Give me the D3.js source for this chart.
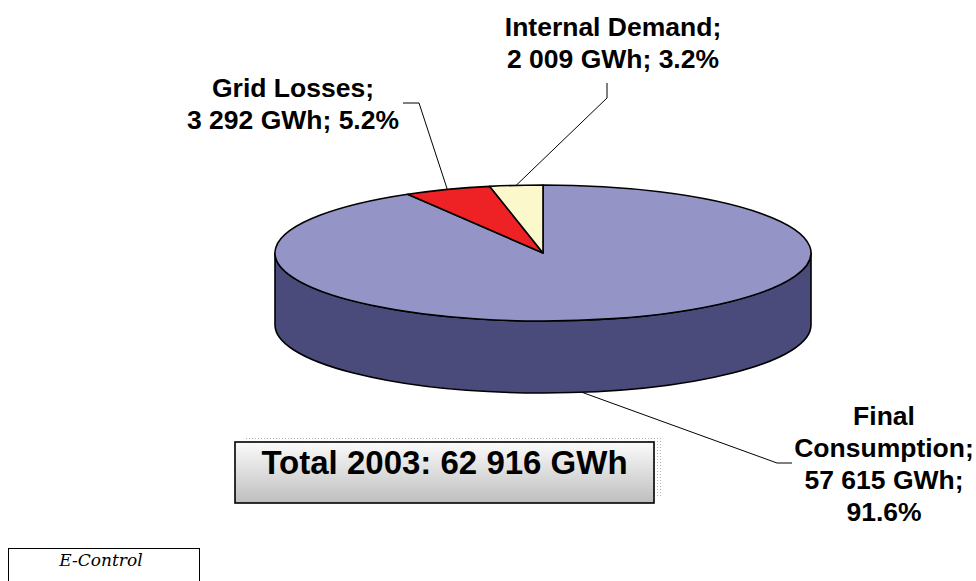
<!DOCTYPE html>
<html>
<head>
<meta charset="utf-8">
<script src="https://cdn.jsdelivr.net/npm/d3@7/dist/d3.min.js"></script>
<style>
  html, body { margin: 0; padding: 0; background: #ffffff; }
  svg { display: block; }
</style>
</head>
<body>
<svg id="chart" width="976" height="581"></svg>
<script>
// Electricity use, Austria 2003 (GWh)
const categories = ["Final Consumption", "Grid Losses", "Internal Demand"];
const values = [57615, 3292, 2009];
const totalYear = 2003;
const sourceLabel = "E-Control";

// Presentation
const sliceColors = ["#9494c6", "#ee2224", "#fbf8cc"];
const sideColors  = ["#4b4b7b", "#8a1416", "#b8b48c"];

// Label anchors and leader elbows for each slice
const labelLayout = [
  { x: 884, y: 425, lines: v => ["Final", "Consumption;", v.gwh + ";", v.pct], elbow: [[792, 463], [777, 463]] },
  { x: 293, y: 97,  lines: v => [v.name + ";", v.gwh + "; " + v.pct], elbow: [[403, 103], [419, 103]] },
  { x: 613, y: 36,  lines: v => [v.name + ";", v.gwh + "; " + v.pct], elbow: [[607, 83], [607, 98]] }
];

const svg = d3.select("#chart");

const cx = 543, cy = 253, rx = 268, ry = 68, depth = 72;
const total = d3.sum(values);

const fmtNum = n => d3.format(",")(n).replace(/,/g, " ");
const fmtPct = p => d3.format(".1f")(p * 100) + "%";

const pie = d3.pie().sort(null).startAngle(0).endAngle(2 * Math.PI);
const arcs = pie(values);

// projected point on the ellipse; angle measured clockwise from 12 o'clock
const pt = (a, dy = 0) => [cx + rx * Math.sin(a), cy - ry * Math.cos(a) + dy];

function topPath(d) {
  const p0 = pt(d.startAngle), p1 = pt(d.endAngle);
  const large = (d.endAngle - d.startAngle) > Math.PI ? 1 : 0;
  return `M${cx},${cy}L${p0[0]},${p0[1]}A${rx},${ry} 0 ${large} 1 ${p1[0]},${p1[1]}Z`;
}

function sidePath(d) {
  const s = Math.max(d.startAngle, Math.PI / 2);
  const e = Math.min(d.endAngle, 3 * Math.PI / 2);
  if (e <= s) return null;
  const a = pt(s), b = pt(e), c = pt(e, depth), dd = pt(s, depth);
  return `M${a[0]},${a[1]}A${rx},${ry} 0 0 1 ${b[0]},${b[1]}L${c[0]},${c[1]}A${rx},${ry} 0 0 0 ${dd[0]},${dd[1]}Z`;
}

// dotted shadow pattern and box gradient
const defs = svg.append("defs");
const pat = defs.append("pattern").attr("id", "dots")
  .attr("width", 3).attr("height", 3).attr("patternUnits", "userSpaceOnUse");
pat.append("rect").attr("width", 1).attr("height", 1).attr("fill", "#b0b0b0");
const grad = defs.append("linearGradient").attr("id", "boxGrad")
  .attr("x1", 0).attr("y1", 0).attr("x2", 0).attr("y2", 1);
grad.append("stop").attr("offset", "0%").attr("stop-color", "#fbfbfb");
grad.append("stop").attr("offset", "100%").attr("stop-color", "#bebebe");

// pie sides (front half only)
const g = svg.append("g");
g.selectAll("path.side")
  .data(arcs.filter(d => sidePath(d)))
  .join("path")
  .attr("class", "side")
  .attr("d", sidePath)
  .attr("fill", d => sideColors[d.index])
  .attr("stroke", "#000")
  .attr("stroke-width", 1.6)
  .attr("stroke-linejoin", "round");

// pie top faces
g.selectAll("path.top")
  .data(arcs)
  .join("path")
  .attr("class", "top")
  .attr("d", topPath)
  .attr("fill", d => sliceColors[d.index])
  .attr("stroke", "#000")
  .attr("stroke-width", 1.6)
  .attr("stroke-linejoin", "round");

// leader lines and labels; front slices point at the lower rim, shifted
// slightly towards the pie's centre line
const labelData = arcs.map((d, i) => {
  const mid = (d.startAngle + d.endAngle) / 2;
  const front = Math.cos(mid) < 0;
  const a = front ? mid + (Math.PI - mid) * 0.45 : mid;
  const anchor = pt(a, front ? depth : 0);
  return {
    i, anchor,
    name: categories[i],
    gwh: fmtNum(values[i]) + " GWh",
    pct: fmtPct(values[i] / total)
  };
});

const line = d3.line();
svg.append("g").selectAll("path")
  .data(labelData)
  .join("path")
  .attr("d", d => line([...labelLayout[d.i].elbow, d.anchor]))
  .attr("fill", "none")
  .attr("stroke", "#000")
  .attr("stroke-width", 1);

const lineH = 32;
const lg = svg.append("g")
  .attr("font-family", "'Liberation Sans', Arial, sans-serif")
  .attr("font-weight", "bold")
  .attr("font-size", 26.5)
  .attr("fill", "#000")
  .attr("text-anchor", "middle");
labelData.forEach(d => {
  const L = labelLayout[d.i];
  lg.append("text")
    .selectAll("tspan")
    .data(L.lines(d))
    .join("tspan")
    .attr("x", L.x)
    .attr("y", (t, k) => L.y + k * lineH)
    .text(t => t);
});

// total box
const box = { x: 235, y: 442, w: 419, h: 61 };
svg.append("rect")
  .attr("x", box.x + 9).attr("y", box.y - 6)
  .attr("width", box.w).attr("height", box.h)
  .attr("fill", "url(#dots)");
svg.append("rect")
  .attr("x", box.x).attr("y", box.y)
  .attr("width", box.w).attr("height", box.h)
  .attr("fill", "url(#boxGrad)")
  .attr("stroke", "#000").attr("stroke-width", 1.6);
svg.append("text")
  .attr("x", box.x + box.w / 2).attr("y", 474)
  .attr("text-anchor", "middle")
  .attr("font-family", "'Liberation Sans', Arial, sans-serif")
  .attr("font-weight", "bold")
  .attr("font-size", 33)
  .text(`Total ${totalYear}: ${fmtNum(total)} GWh`);

// source box
svg.append("rect")
  .attr("x", 8.5).attr("y", 548.5)
  .attr("width", 191).attr("height", 60)
  .attr("fill", "#fff")
  .attr("stroke", "#000").attr("stroke-width", 1);
svg.append("text")
  .attr("x", 101).attr("y", 566)
  .attr("text-anchor", "middle")
  .attr("font-family", "'DejaVu Serif', 'Liberation Serif', serif")
  .attr("font-style", "italic")
  .attr("font-size", 17)
  .text(sourceLabel);
</script>
</body>
</html>
